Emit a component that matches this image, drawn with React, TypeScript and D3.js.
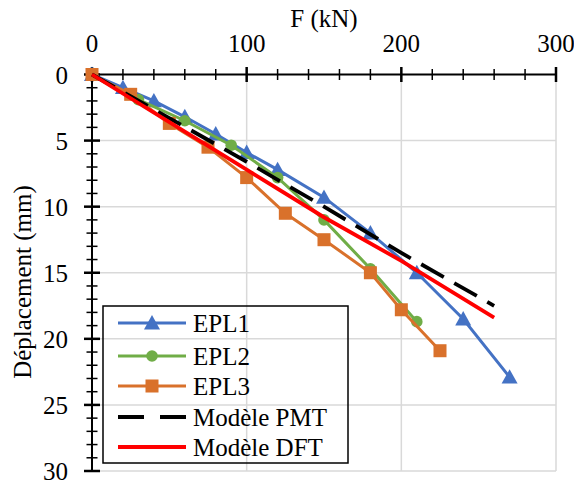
import React from "react";
import * as d3 from "d3";

const epl1F = [0, 20, 40, 60, 80, 100, 120, 150, 180, 210, 240, 270];
const epl1D = [0, 1.0, 2.0, 3.2, 4.5, 5.9, 7.2, 9.3, 12.0, 15.0, 18.5, 22.9];
const epl2F = [0, 30, 60, 90, 120, 150, 180, 210];
const epl2D = [0, 1.9, 3.5, 5.35, 7.8, 11.0, 14.7, 18.7];
const epl3F = [0, 25, 50, 75, 100, 125, 150, 180, 200, 225];
const epl3D = [0, 1.5, 3.7, 5.5, 7.8, 10.5, 12.5, 15.0, 17.8, 20.9];
const pmtF = [0, 50, 100, 150, 200, 260];
const pmtD = [0, 3.3, 6.6, 10.0, 13.5, 17.5];
const dftF = [0, 50, 100, 150, 200, 260];
const dftD = [0, 3.6, 7.2, 10.8, 14.1, 18.4];

const xTicks = [0, 100, 200, 300];
const yTicks = [0, 5, 10, 15, 20, 25, 30];
const legendLabels = ["EPL1", "EPL2", "EPL3", "Modèle PMT", "Modèle DFT"];

const FONT = "'Liberation Serif', 'Times New Roman', serif";
const txt: React.CSSProperties = { fontFamily: FONT, fontSize: "25px" };

export default function App() {
  const W = 574, H = 481;
  const x = d3.scaleLinear().domain([0, 300]).range([92, 556]);
  const y = d3.scaleLinear().domain([0, 30]).range([74.5, 471]);
  const line = d3.line<[number, number]>().x(d => x(d[0])).y(d => y(d[1]));
  const zip = (a: number[], b: number[]) => a.map((v, i) => [v, b[i]] as [number, number]);

  const s1 = zip(epl1F, epl1D);
  const s2 = zip(epl2F, epl2D);
  const s3 = zip(epl3F, epl3D);
  const pmt = zip(pmtF, pmtD);
  const dft = zip(dftF, dftD);

  const blue = "#4472C4", green = "#70AD47", orange = "#D9712B";
  const tri = (cx: number, cy: number, s = 8) =>
    `M${cx},${cy - s} L${cx + s},${cy + s * 0.8} L${cx - s},${cy + s * 0.8} Z`;

  const minorX = d3.range(0, 301, 20).filter(v => v % 100 !== 0);
  const minorY = d3.range(0, 31, 1).filter(v => v % 5 !== 0);

  const legX = 103, legY = 306, legW = 245, legH = 157;
  const rowY = [323, 356, 386, 417, 447];

  return (
    <svg width={W} height={H} style={{ position: "absolute", left: 0, top: 0, background: "#fff" }}>
      <rect x={0} y={0} width={W} height={H} fill="#fff" />
      {xTicks.filter(v => v > 0).map(v => (
        <line key={"gx" + v} x1={x(v)} x2={x(v)} y1={y(0)} y2={y(30)} stroke="#d9d9d9" strokeWidth={1.5} />
      ))}
      {yTicks.filter(v => v > 0).map(v => (
        <line key={"gy" + v} x1={x(0)} x2={x(300)} y1={y(v)} y2={y(v)} stroke="#d9d9d9" strokeWidth={1.5} />
      ))}
      <line x1={x(0)} x2={x(300)} y1={y(0)} y2={y(0)} stroke="#000" strokeWidth={2} />
      <line x1={x(0)} x2={x(0)} y1={y(0)} y2={y(30)} stroke="#000" strokeWidth={2} />
      {minorX.map(v => (
        <line key={"mx" + v} x1={x(v)} x2={x(v)} y1={y(0) - 5.5} y2={y(0) + 5.5} stroke="#000" strokeWidth={1.5} />
      ))}
      {xTicks.map(v => (
        <line key={"Mx" + v} x1={x(v)} x2={x(v)} y1={y(0) - 7.5} y2={y(0) + 7.5} stroke="#000" strokeWidth={2.5} />
      ))}
      {minorY.map(v => (
        <line key={"my" + v} x1={x(0) - 5.5} x2={x(0) + 5.5} y1={y(v)} y2={y(v)} stroke="#000" strokeWidth={1.5} />
      ))}
      {yTicks.map(v => (
        <line key={"My" + v} x1={x(0) - 8} x2={x(0) + 8} y1={y(v)} y2={y(v)} stroke="#000" strokeWidth={2.5} />
      ))}
      {xTicks.map(v => (
        <text key={"tx" + v} x={x(v)} y={y(0) - 22.5} textAnchor="middle" style={txt}>{v}</text>
      ))}
      {yTicks.map(v => (
        <text key={"ty" + v} x={68} y={y(v) + 9} textAnchor="end" style={txt}>{v}</text>
      ))}
      <text x={(x(0) + x(300)) / 2} y={27} textAnchor="middle" style={txt}>F (kN)</text>
      <text transform={`translate(31,${282}) rotate(-90)`} textAnchor="middle" style={txt}>Déplacement (mm)</text>

      <path d={line(s1) || ""} fill="none" stroke={blue} strokeWidth={3} />
      {s1.map((p, i) => <path key={"m1" + i} d={tri(x(p[0]), y(p[1]))} fill={blue} />)}
      <path d={line(s2) || ""} fill="none" stroke={green} strokeWidth={3} />
      {s2.map((p, i) => <circle key={"m2" + i} cx={x(p[0])} cy={y(p[1])} r={5.8} fill={green} />)}
      <path d={line(s3) || ""} fill="none" stroke={orange} strokeWidth={3} />
      {s3.map((p, i) => <rect key={"m3" + i} x={x(p[0]) - 6.5} y={y(p[1]) - 6.5} width={13} height={13} fill={orange} />)}
      <path d={line(pmt) || ""} fill="none" stroke="#000" strokeWidth={3.8} strokeDasharray="26,12" />
      <path d={line(dft) || ""} fill="none" stroke="#FF0000" strokeWidth={3.8} />

      <rect x={legX} y={legY} width={legW} height={legH} fill="none" stroke="#000" strokeWidth={1.5} />
      {legendLabels.map((lab, i) => {
        const cy = rowY[i];
        const x1 = 118, x2 = 186, cx = (x1 + x2) / 2;
        return (
          <g key={"leg" + i}>
            {i === 0 && <>
              <line x1={x1} x2={x2} y1={cy} y2={cy} stroke={blue} strokeWidth={3} />
              <path d={tri(cx, cy)} fill={blue} />
            </>}
            {i === 1 && <>
              <line x1={x1} x2={x2} y1={cy} y2={cy} stroke={green} strokeWidth={3} />
              <circle cx={cx} cy={cy} r={5.8} fill={green} />
            </>}
            {i === 2 && <>
              <line x1={x1} x2={x2} y1={cy} y2={cy} stroke={orange} strokeWidth={3} />
              <rect x={cx - 6.5} y={cy - 6.5} width={13} height={13} fill={orange} />
            </>}
            {i === 3 && <line x1={x1} x2={x2} y1={cy} y2={cy} stroke="#000" strokeWidth={3.8} strokeDasharray="26,16" />}
            {i === 4 && <line x1={x1} x2={x2} y1={cy} y2={cy} stroke="#FF0000" strokeWidth={3.8} />}
            <text x={193} y={cy + 8.5} style={txt}>{lab}</text>
          </g>
        );
      })}
    </svg>
  );
}
